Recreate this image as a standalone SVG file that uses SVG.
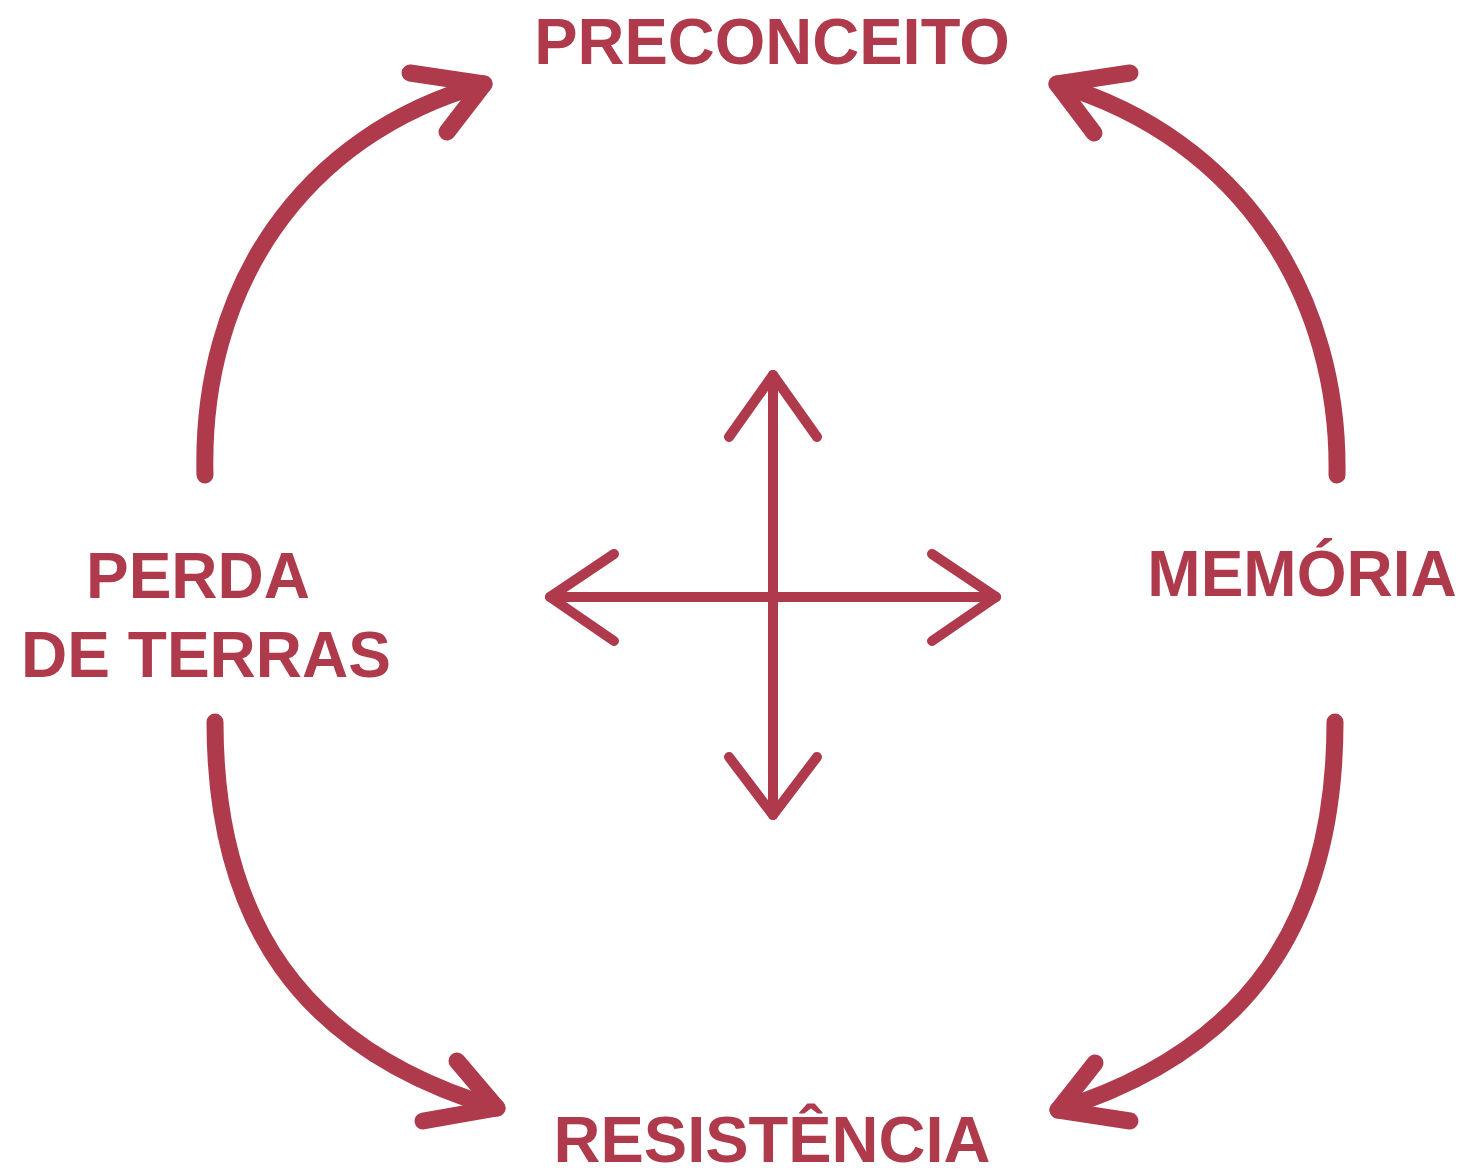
<svg xmlns="http://www.w3.org/2000/svg" width="1468" height="1174" viewBox="0 0 1468 1174">
<style>
.lbl{font-family:"Liberation Sans",Arial,sans-serif;font-weight:bold;font-size:64px;fill:#ae3a4b;text-anchor:middle}
.curve{fill:none;stroke:#ae3a4b;stroke-width:17;stroke-linecap:round;stroke-linejoin:round}
.cross{fill:none;stroke:#ae3a4b;stroke-width:10;stroke-linecap:round;stroke-linejoin:round}
</style>
<rect width="1468" height="1174" fill="#ffffff"/>
<g id="preconceito"><text class="lbl" x="772" y="64" style="font-size:65px">PRECONCEITO</text></g>
<g id="perda-de-terras"><text class="lbl" x="198" y="598">PERDA</text><text class="lbl" x="206" y="677">DE TERRAS</text></g>
<g id="memoria"><text class="lbl" x="1302" y="596">MEMÓRIA</text></g>
<g id="resistencia"><text class="lbl" x="772" y="1162" style="font-size:65px">RESISTÊNCIA</text></g>
<g id="connectors">
<path class="curve" d="M205,475 C200,290 300,135 484,84"/>
<path class="curve" d="M410,73 L484,84 L447,132"/>
<path class="curve" d="M1337,475 C1340,300 1245,140 1057,84"/>
<path class="curve" d="M1130,73 L1057,84 L1094,133"/>
<path class="curve" d="M215,722 C215,920 300,1050 497,1108"/>
<path class="curve" d="M457,1061 L497,1108 L423,1121"/>
<path class="curve" d="M1335,722 C1335,920 1250,1050 1058,1110"/>
<path class="curve" d="M1095,1063 L1058,1110 L1130,1121"/>
<line class="cross" x1="773" y1="375" x2="773" y2="815"/>
<line class="cross" x1="550" y1="597" x2="996" y2="597"/>
<path class="cross" d="M729,437 L773,375 L817,437"/>
<path class="cross" d="M729,757 L773,815 L817,757"/>
<path class="cross" d="M614,554 L550,597 L614,641"/>
<path class="cross" d="M932,554 L996,597 L932,641"/>
</g>
</svg>
